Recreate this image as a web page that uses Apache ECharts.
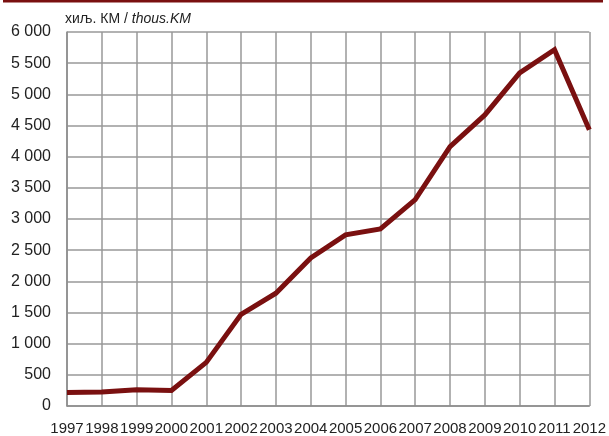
<!DOCTYPE html>
<html>
<head>
    <meta charset="utf-8">
    <title>хиљ. КМ</title>
    <script src="https://cdn.jsdelivr.net/npm/echarts@6/dist/echarts.min.js"></script>
    <style>
        html, body { margin: 0; padding: 0; background: #fff; }
    </style>
</head>
<body>
<div id="main" style="width: 609px;height:436px;"></div>
<script type="text/javascript">
    // года и вредности (хиљ. КМ)
    var years = ['1997', '1998', '1999', '2000', '2001', '2002', '2003', '2004',
        '2005', '2006', '2007', '2008', '2009', '2010', '2011', '2012'];
    var values = [215, 225, 262, 248, 700, 1470, 1810, 2375,
        2745, 2840, 3310, 4160, 4670, 5345, 5715, 4430];
    var yTicks = [0, 500, 1000, 1500, 2000, 2500, 3000, 3500, 4000, 4500, 5000, 5500, 6000];

    var fontFam = '"Liberation Sans Narrow", "Liberation Sans", Arial, sans-serif';
    var myChart = echarts.init(document.getElementById('main'));

    var option = {
        animation: false,
        graphic: [{
            type: 'rect',
            shape: {x: 3, y: 0, width: 600, height: 2.5},
            style: {fill: '#7a1010'}
        }, {
            type: 'text',
            left: 65,
            top: 12,
            style: {
                text: '{a|хиљ. КМ / }{b|thous.KM}',
                rich: {
                    a: {fontFamily: fontFam, fontSize: 14, fill: '#222'},
                    b: {fontFamily: fontFam, fontSize: 14, fill: '#222', fontStyle: 'italic'}
                }
            }
        }],
        grid: {
            left: 67,
            right: 16,
            top: 32,
            bottom: 25,
            containLabel: false
        },
        xAxis: {
            type: 'category',
            data: years,
            boundaryGap: false,
            axisTick: {show: false},
            axisLine: {show: true, lineStyle: {color: '#8c8c8c', width: 1.5}},
            axisLabel: {
                color: '#222',
                fontFamily: fontFam,
                fontSize: 15,
                margin: 15,
                interval: 0
            },
            splitLine: {show: true, lineStyle: {color: '#999', width: 1.5}}
        },
        yAxis: {
            type: 'value',
            min: 0,
            max: 6000,
            interval: 500,
            axisTick: {show: false},
            axisLine: {show: true, lineStyle: {color: '#8c8c8c', width: 1.5}},
            axisLabel: {
                color: '#222',
                fontFamily: fontFam,
                fontSize: 16,
                margin: 16,
                formatter: function (v) {
                    return v >= 1000 ? Math.floor(v / 1000) + ' ' + String(v % 1000).padStart(3, '0') : String(v);
                }
            },
            splitLine: {show: true, lineStyle: {color: '#999', width: 1.5}}
        },
        series: [{
            name: 'thous.KM',
            type: 'line',
            data: values,
            symbol: 'none',
            lineStyle: {color: '#7a1010', width: 5, join: 'miter'},
            itemStyle: {color: '#7a1010'}
        }]
    };
    myChart.setOption(option);
</script>
</body>
</html>
